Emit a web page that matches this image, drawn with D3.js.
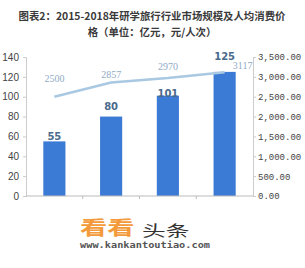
<!DOCTYPE html>
<html>
<head>
<script src="https://d3js.org/d3.v7.min.js"></script>
<style>
  body { margin: 0; background: #fff; }
  svg { display: block; }
</style>
</head>
<body>
<div id="chart"></div>
<script>
// data
var years = ["2015", "2016", "2017", "2018"];
var marketSize = [55, 80, 101, 125];
var perCapita = [2500, 2857, 2970, 3117];
var leftTicks = [0, 20, 40, 60, 80, 100, 120, 140];
var rightTicks = [0, 500, 1000, 1500, 2000, 2500, 3000, 3500];

// label nudges (px above the mark)
var barLabelGap = [1, 7, -1, 12];
var lineLabelGap = [15, 5, 8, 3];

var W = 305, H = 268;
var svg = d3.select("#chart").append("svg").attr("width", W).attr("height", H);

// title
var title = svg.append("text")
    .attr("text-anchor", "middle")
    .attr("font-family", "Noto Sans CJK SC, sans-serif")
    .attr("font-weight", "bold")
    .attr("font-size", 10.4)
    .attr("fill", "#3a3a3a");
title.append("tspan").attr("x", 152).attr("y", 20).text("图表2：2015-2018年研学旅行行业市场规模及人均消费价");
title.append("tspan").attr("x", 152).attr("y", 36).text("格（单位：亿元，元/人次）");

var plotL = 26, plotR = 253, plotT = 57, plotB = 196;

var x = d3.scaleBand().domain(years).range([plotL, plotR]).paddingInner(0.61).paddingOuter(0.305);
var yL = d3.scaleLinear().domain([0, 140]).range([plotB, plotT]);
var yR = d3.scaleLinear().domain([0, 3500]).range([plotB, plotT]);

// left axis
var axL = svg.append("g").attr("transform", "translate(" + plotL + ",0)")
    .call(d3.axisLeft(yL).tickValues(leftTicks).tickSize(3).tickPadding(4));
axL.selectAll("text").attr("font-family", "Liberation Sans, sans-serif").attr("font-size", 10).attr("fill", "#444");
axL.selectAll("line, path").attr("stroke", "#ccc");

// right axis
var axR = svg.append("g").attr("transform", "translate(" + plotR + ",0)")
    .call(d3.axisRight(yR).tickValues(rightTicks).tickSize(3).tickPadding(2).tickFormat(d3.format(",.2f")));
axR.selectAll("text").attr("font-family", "Liberation Mono, monospace").attr("font-size", 9).attr("fill", "#444");
axR.selectAll("line, path").attr("stroke", "#ccc");

// bars
svg.selectAll(".bar").data(marketSize).enter().append("rect")
    .attr("x", (d, i) => x(years[i]))
    .attr("width", x.bandwidth())
    .attr("y", d => yL(d))
    .attr("height", d => plotB - yL(d))
    .attr("fill", "#3b7bd6");

// x axis baseline with boundary ticks
var outer = d3.scaleBand().domain(years).range([plotL, plotR]);
svg.append("line").attr("x1", plotL).attr("x2", plotR).attr("y1", plotB).attr("y2", plotB).attr("stroke", "#bbb");
svg.selectAll(".xt").data(years.slice(1)).enter().append("line")
    .attr("x1", d => outer(d)).attr("x2", d => outer(d))
    .attr("y1", plotB).attr("y2", plotB + 3).attr("stroke", "#bbb");

// line
var cx = (d, i) => x(years[i]) + x.bandwidth() / 2;
svg.append("path").datum(perCapita)
    .attr("fill", "none")
    .attr("stroke", "#a9c8e2")
    .attr("stroke-width", 2.5)
    .attr("d", d3.line().x(cx).y(d => yR(d)));

svg.selectAll(".linelabel").data(perCapita).enter().append("text")
    .attr("x", (d, i) => cx(d, i) + (i === 3 ? 18 : 0))
    .attr("y", (d, i) => yR(d) - lineLabelGap[i])
    .attr("text-anchor", "middle")
    .attr("font-family", "Liberation Serif, serif")
    .attr("font-size", 10)
    .attr("fill", "#8fabc6")
    .text(d => d);

svg.selectAll(".barlabel").data(marketSize).enter().append("text")
    .attr("x", (d, i) => x(years[i]) + x.bandwidth() / 2)
    .attr("y", (d, i) => yL(d) - barLabelGap[i])
    .attr("text-anchor", "middle")
    .attr("font-family", "DejaVu Sans, sans-serif")
    .attr("font-weight", "bold")
    .attr("font-size", 10)
    .attr("fill", "#4a6a8c")
    .text(d => d);

// footer watermark
svg.append("text").attr("transform", "translate(80,235) scale(1.3,0.9)")
    .attr("font-family", "Noto Sans CJK SC, sans-serif").attr("font-weight", "bold")
    .attr("font-size", 21).attr("fill", "#f39a3a").text("看看");
svg.append("text").attr("transform", "translate(142,236) scale(1.25,0.8)")
    .attr("font-family", "Noto Sans CJK SC, sans-serif")
    .attr("font-size", 19).attr("fill", "#333").text("头条");
svg.append("text").attr("transform", "translate(80,248) scale(1,0.85)")
    .attr("font-family", "DejaVu Sans Mono, monospace").attr("font-weight", "bold")
    .attr("font-size", 10.3).attr("fill", "#555").text("www.kankantoutiao.com");
</script>
</body>
</html>
